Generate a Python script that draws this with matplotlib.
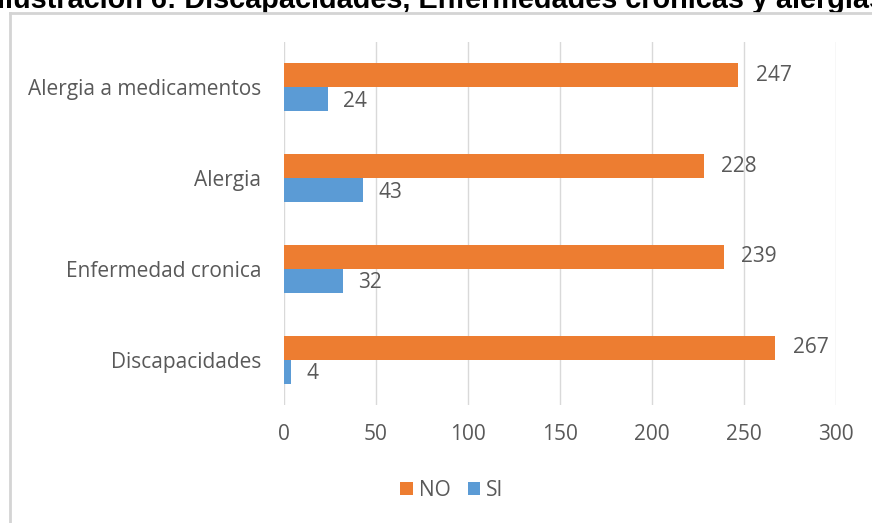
import matplotlib
matplotlib.use("Agg")
import matplotlib.pyplot as plt
import numpy as np
from matplotlib.lines import Line2D

categories = ["Discapacidades", "Enfermedad cronica", "Alergia", "Alergia a medicamentos"]
no_values = [267, 239, 228, 247]
si_values = [4, 32, 43, 24]
xticks = [0, 50, 100, 150, 200, 250, 300]
title = "Ilustración 6: Discapacidades, Enfermedades crónicas y alergias"

ORANGE = "#ED7D31"
BLUE = "#5B9BD5"
GRAY = "#595959"
GRID = "#D9D9D9"
FONT = "Open Sans"
FS = 15

fig = plt.figure(figsize=(8.72, 5.23), dpi=100)
fig.patch.set_facecolor("white")

fig.text(441/872, 1 - 8/523, title, ha="center", va="baseline",
         fontsize=20.8, fontweight="bold", family="Liberation Sans", color="black", zorder=1)

# chart frame (top and left edges visible)
fx, fy = 9.5/872, 1 - 13/523
fig.add_artist(Line2D([fx, 1.0], [fy, fy], transform=fig.transFigure,
                      color="#D4D4D4", linewidth=2.0, zorder=10))
fig.add_artist(Line2D([fx, fx], [0, fy], transform=fig.transFigure,
                      color="#D4D4D4", linewidth=2.0, zorder=10))

ax = fig.add_axes([284/872, 1 - 405/523, 552/872, 363/523])
y = np.arange(len(categories))
h = 0.265
ax.barh(y + h/2, no_values, height=h, color=ORANGE, label="NO", zorder=3)
ax.barh(y - h/2, si_values, height=h, color=BLUE, label="SI", zorder=3)

for yi, v in zip(y, no_values):
    ax.annotate(str(v), (v, yi + h/2), xytext=(12.5, 0), textcoords="offset points",
                va="center", ha="left", fontsize=FS, color=GRAY, family=FONT)
for yi, v in zip(y, si_values):
    ax.annotate(str(v), (v, yi - h/2), xytext=(11, -1.5), textcoords="offset points",
                va="center", ha="left", fontsize=FS, color=GRAY, family=FONT)

ax.set_xlim(0, 300)
ax.set_ylim(-0.5, 3.5)
ax.set_xticks(xticks)
ax.set_xticklabels([str(t) for t in xticks], fontsize=FS, color=GRAY, family=FONT)
ax.set_yticks(y)
ax.set_yticklabels(categories, fontsize=FS, color=GRAY, family=FONT)
ax.tick_params(axis="both", length=0)
ax.tick_params(axis="x", pad=14)
ax.tick_params(axis="y", pad=16.5)
ax.grid(axis="x", color=GRID, linewidth=1, zorder=0)
for s in ax.spines.values():
    s.set_visible(False)

handles, labels = ax.get_legend_handles_labels()
fig.legend(handles, labels, loc="center", bbox_to_anchor=(452/872, 1 - 490/523), ncol=2,
           frameon=False, handlelength=0.6, handleheight=0.6, handletextpad=0.3,
           columnspacing=0.8, prop={"family": FONT, "size": FS}, labelcolor=GRAY)

fig.savefig("out.png", dpi=100)
